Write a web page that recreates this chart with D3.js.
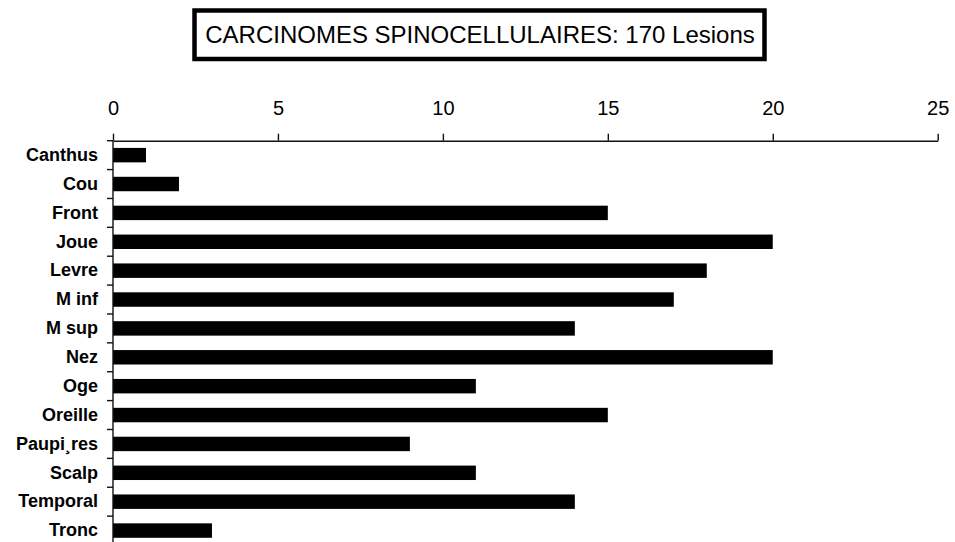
<!DOCTYPE html>
<meta charset="utf-8">
<head>
<script src="https://cdnjs.cloudflare.com/ajax/libs/d3/7.8.5/d3.min.js"></script>
<style>
body { margin: 0; background: #fff; }
svg { display: block; font-family: "Liberation Sans", Arial, sans-serif; }
</style>
</head>
<body>
<div id="chart"></div>
<script>

// data
var titleText = 'CARCINOMES SPINOCELLULAIRES: 170 Lesions';
var sites = ['Canthus', 'Cou', 'Front', 'Joue', 'Levre', 'M inf', 'M sup', 'Nez', 'Oge', 'Oreille', 'Paupi\u00b8res', 'Scalp', 'Temporal', 'Tronc'];
var lesions = [1, 2, 15, 20, 18, 17, 14, 20, 11, 15, 9, 11, 14, 3];
var xTicks = [0, 5, 10, 15, 20, 25];

var width = 955;
var height = 542;

var svg = d3.select('#chart').append('svg')
            .attr('width', width)
            .attr('height', height);

// title in a thick box
svg.append('rect')
   .attr('x', 194.5).attr('y', 10.5)
   .attr('width', 570).attr('height', 48.5)
   .attr('fill', 'none')
   .attr('stroke', '#000')
   .attr('stroke-width', 4.5);

svg.append('text')
   .attr('x', 480).attr('y', 42.5)
   .attr('text-anchor', 'middle')
   .style('font-size', '24px')
   .text(titleText);

var x = d3.scaleLinear().domain([0, 25]).range([113, 937.7]);
var y = d3.scaleBand().domain(sites).range([140.7, 545])
          .paddingInner(0.5).paddingOuter(0.25);

// bars
svg.selectAll('.bar')
   .data(sites)
   .enter()
   .append('rect')
   .attr('class', 'bar')
   .attr('x', x(0))
   .attr('y', function(d){ return y(d); })
   .attr('width', function(d, i){ return x(lesions[i]) - x(0); })
   .attr('height', y.bandwidth())
   .attr('fill', '#000');

// top axis
var xAxis = svg.append('g')
   .attr('transform', 'translate(0,140.7)')
   .call(d3.axisTop(x).tickValues(xTicks).tickSize(7).tickSizeOuter(0).tickPadding(18.5));
xAxis.select('.domain').attr('stroke', '#111').attr('stroke-width', 1.4);
xAxis.selectAll('.tick line').attr('stroke', '#111').attr('stroke-width', 1.4);
xAxis.selectAll('.tick text')
     .attr('fill', '#000')
     .style('font-size', '20px');

// left axis: labels at band centres, ticks at band borders
var yAxis = svg.append('g')
   .attr('transform', 'translate(' + x(0) + ',0)')
   .call(d3.axisLeft(y).tickSize(0).tickPadding(15));
yAxis.select('.domain').remove();
yAxis.selectAll('.tick text')
     .attr('fill', '#000')
     .style('font-size', '18px')
     .style('font-weight', 'bold');

var borders = d3.range(sites.length + 1).map(function(i){
  return y.range()[0] + i * y.step();
});

svg.append('line')
   .attr('x1', x(0)).attr('x2', x(0))
   .attr('y1', y.range()[0]).attr('y2', y.range()[1])
   .attr('stroke', '#111').attr('stroke-width', 1.4);

svg.selectAll('.ytick')
   .data(borders)
   .enter()
   .append('line')
   .attr('class', 'ytick')
   .attr('x1', x(0) - 6).attr('x2', x(0))
   .attr('y1', function(d){ return d; })
   .attr('y2', function(d){ return d; })
   .attr('stroke', '#111').attr('stroke-width', 1.4);

</script>
</body>
